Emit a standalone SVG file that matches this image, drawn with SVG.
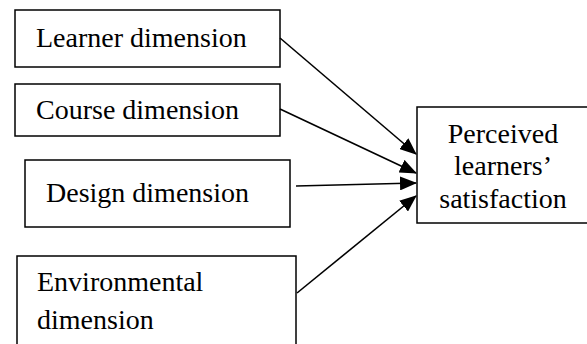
<svg xmlns="http://www.w3.org/2000/svg" width="587" height="344" viewBox="0 0 587 344">
<style>
.box{fill:#fff;stroke:#000;stroke-width:1.5}
.t{font-family:"Liberation Serif","Times New Roman",serif;font-size:28px;fill:#000}
.c{stroke:#000;stroke-width:1.6;fill:none;marker-end:url(#ah)}
</style>
<defs>
<marker id="ah" markerWidth="17" markerHeight="14" refX="16" refY="7" orient="auto" markerUnits="userSpaceOnUse">
<path d="M0,0 L17,7 L0,14 Z" fill="#000"/>
</marker>
</defs>
<rect width="587" height="344" fill="#fff"/>
<g id="learner"><rect class="box" x="15" y="10" width="265" height="57"/><text class="t" x="36" y="47">Learner dimension</text></g>
<g id="course"><rect class="box" x="15" y="84" width="265" height="52"/><text class="t" x="36" y="119">Course dimension</text></g>
<g id="design"><rect class="box" x="25" y="160" width="265" height="67"/><text class="t" x="46" y="202">Design dimension</text></g>
<g id="environmental"><rect class="box" x="17" y="256" width="279" height="92"/><text class="t" x="37" y="291">Environmental</text><text class="t" x="37" y="329">dimension</text></g>
<g id="satisfaction"><rect class="box" x="417" y="107" width="172" height="116"/><text class="t" text-anchor="middle" x="503" y="143">Perceived</text><text class="t" text-anchor="middle" x="503" y="175">learners’</text><text class="t" text-anchor="middle" x="503" y="208">satisfaction</text></g>
<g id="connectors">
<line class="c" x1="280" y1="38" x2="416" y2="154"/>
<line class="c" x1="280" y1="109" x2="416" y2="173"/>
<line class="c" x1="296" y1="186" x2="416" y2="183"/>
<line class="c" x1="297" y1="293" x2="416" y2="196"/>
</g>
</svg>
